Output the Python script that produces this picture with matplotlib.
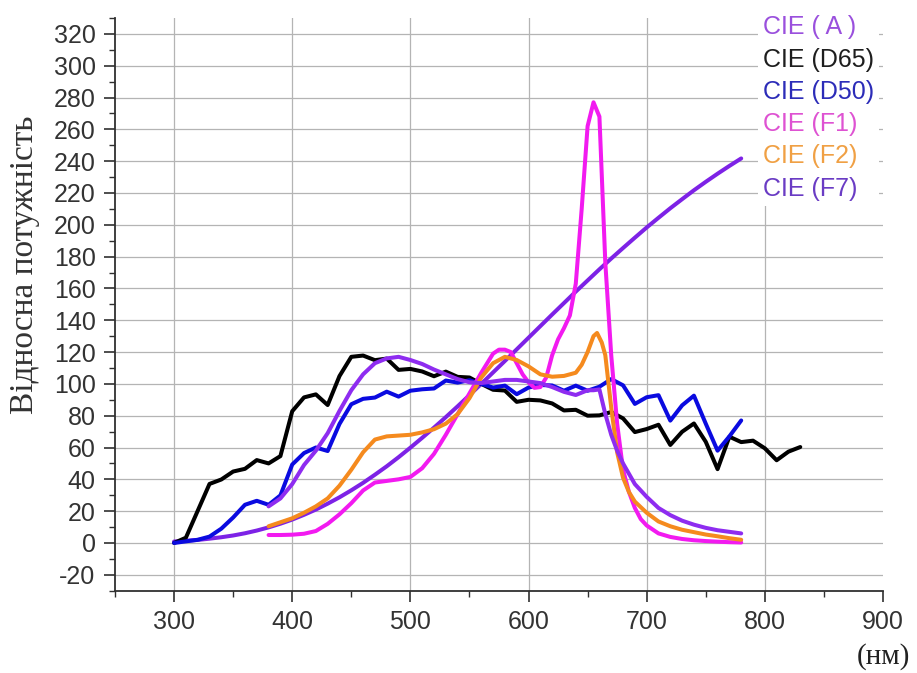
import matplotlib
matplotlib.use("Agg")
import matplotlib.pyplot as plt
from matplotlib.ticker import MultipleLocator

plt.rcParams['font.family'] = ['Liberation Sans', 'DejaVu Sans']
plt.rcParams['axes.unicode_minus'] = False

# --- data ---
wl_a = [300, 310, 320, 330, 340, 350, 360, 370, 380, 390, 400, 410, 420, 430, 440,
        450, 460, 470, 480, 490, 500, 510, 520, 530, 540, 550, 560, 570, 580, 590,
        600, 610, 620, 630, 640, 650, 660, 670, 680, 690, 700, 710, 720, 730, 740,
        750, 760, 770, 780]
cie_a = [0.9, 1.4, 1.9, 2.7, 3.6, 4.7, 6.1, 7.8, 9.8, 12.1, 14.7, 17.7, 21.0, 24.7, 28.7,
         33.1, 37.8, 42.9, 48.2, 53.9, 59.9, 66.1, 72.5, 79.1, 85.9, 92.9, 100.0, 107.2, 114.4, 121.7,
         129.0, 136.3, 143.6, 150.8, 158.0, 165.0, 172.0, 178.8, 185.4, 191.9, 198.3, 204.4, 210.4, 216.1, 221.7,
         227.0, 232.1, 237.0, 241.7]

wl_d65 = [300, 310, 320, 330, 340, 350, 360, 370, 380, 390, 400, 410, 420, 430, 440,
          450, 460, 470, 480, 490, 500, 510, 520, 530, 540, 550, 560, 570, 580, 590,
          600, 610, 620, 630, 640, 650, 660, 670, 680, 690, 700, 710, 720, 730, 740,
          750, 760, 770, 780, 790, 800, 810, 820, 830]
cie_d65 = [0.0, 3.3, 20.2, 37.1, 39.9, 44.9, 46.6, 52.1, 50.0, 54.6, 82.8, 91.5, 93.4, 86.7, 104.9,
           117.0, 117.8, 114.9, 115.9, 108.8, 109.4, 107.8, 104.8, 107.7, 104.4, 104.0, 100.0, 96.3, 95.8, 88.7,
           90.0, 89.6, 87.7, 83.3, 83.7, 80.0, 80.2, 82.3, 78.3, 69.7, 71.6, 74.3, 61.6, 69.9, 75.1,
           63.6, 46.4, 66.8, 63.4, 64.3, 59.5, 52.0, 57.4, 60.3]

wl_d50 = wl_a
cie_d50 = [0.0, 1.0, 2.0, 4.0, 9.0, 16.0, 24.0, 26.5, 24.0, 29.9, 49.3, 56.5, 60.0, 57.8, 74.8,
           87.2, 90.6, 91.4, 95.1, 92.0, 95.7, 96.6, 97.1, 102.1, 100.8, 102.3, 100.0, 97.7, 98.9, 93.5,
           97.7, 99.3, 99.0, 95.7, 98.9, 95.7, 98.2, 103.0, 99.1, 87.4, 91.6, 92.9, 76.9, 86.5, 92.6,
           75.0, 58.0, 67.0, 77.0]

wl_f1 = [380, 390, 400, 410, 420, 430, 440, 450, 460, 470, 480, 490, 500, 510, 520,
         530, 540, 550, 560, 570, 575, 580, 585, 590, 595, 600, 605, 610, 615, 620,
         625, 630, 635, 640, 645, 650, 655, 660, 665, 670, 675, 680, 685, 690, 695,
         700, 710, 720, 730, 740, 750, 760, 770, 780]
cie_f1 = [5.0, 5.0, 5.2, 5.8, 7.5, 12.0, 18.0, 25.0, 33.0, 38.0, 39.0, 40.0, 41.5, 47.0, 56.0,
          68.0, 81.0, 94.0, 107.0, 119.0, 121.5, 121.5, 120.0, 113.0, 106.0, 101.0, 97.5, 98.0, 104.0, 118.0,
          128.0, 135.0, 143.0, 163.0, 210.0, 262.0, 277.0, 268.0, 176.0, 118.0, 75.0, 46.0, 32.0, 22.0, 15.0,
          11.0, 6.0, 3.8, 2.5, 1.7, 1.2, 0.8, 0.5, 0.3]

wl_f2 = [380, 390, 400, 410, 420, 430, 440, 450, 460, 470, 480, 490, 500, 510, 520,
         530, 540, 550, 560, 570, 580, 590, 600, 610, 620, 630, 640, 645, 650, 655,
         658, 662, 665, 670, 675, 680, 685, 690, 700, 710, 720, 730, 740, 750, 760,
         770, 780]
cie_f2 = [10.5, 13.0, 15.5, 19.0, 23.0, 28.0, 36.0, 46.0, 57.0, 65.0, 67.0, 67.5, 68.0, 69.5, 71.5,
          75.0, 81.0, 91.0, 104.0, 113.0, 117.0, 115.0, 111.0, 106.0, 104.5, 105.0, 107.0, 112.0, 120.0, 130.0,
          132.0, 126.0, 118.0, 85.0, 57.0, 41.0, 32.0, 26.0, 19.0, 13.5, 10.5, 8.3, 6.8, 5.3, 4.2,
          3.0, 2.0]

wl_f7 = [380, 390, 400, 410, 420, 430, 440, 450, 460, 470, 480, 490, 500, 510, 520,
         530, 540, 550, 560, 570, 580, 590, 600, 610, 620, 630, 640, 650, 655, 660,
         665, 670, 675, 680, 690, 700, 710, 720, 730, 740, 750, 760, 770, 780]
cie_f7 = [23.0, 28.0, 37.0, 49.0, 58.0, 69.0, 83.0, 96.0, 106.0, 113.0, 116.0, 117.0, 115.0, 112.5, 109.0,
          106.0, 103.0, 101.0, 100.5, 101.5, 102.5, 102.5, 101.5, 100.5, 98.0, 95.0, 93.0, 96.0, 96.0, 96.5,
          81.0, 68.0, 58.0, 50.0, 37.0, 29.0, 22.0, 17.5, 14.0, 11.5, 9.5, 8.0, 7.0, 6.0]

labels = ['CIE ( A )', 'CIE (D65)', 'CIE (D50)', 'CIE (F1)', 'CIE (F2)', 'CIE (F7)']
line_colors = ['#7d22e6', '#000000', '#0a0ae0', '#f21af0', '#f58a1e', '#8e2cf0']
text_colors = ['#9a50dd', '#1e1e1e', '#2c2cb8', '#de52d2', '#f0a044', '#6a3cc4']

fig = plt.figure(figsize=(9.17, 6.73), dpi=100)
ax = fig.add_axes([0.1254, 0.1223, 0.8375, 0.851])

series = [(wl_a, cie_a), (wl_d65, cie_d65), (wl_d50, cie_d50),
          (wl_f1, cie_f1), (wl_f2, cie_f2), (wl_f7, cie_f7)]
lines = []
for (x, y), c, lab in zip(series, line_colors, labels):
    ln, = ax.plot(x, y, color=c, lw=2.9, label=lab, solid_capstyle='round',
                  solid_joinstyle='round', zorder=3)
    lines.append(ln)

ax.set_xlim(250, 900)
ax.set_ylim(-30, 330)
ax.xaxis.set_major_locator(MultipleLocator(100))
ax.xaxis.set_minor_locator(MultipleLocator(50))
ax.yaxis.set_major_locator(MultipleLocator(20))
ax.yaxis.set_minor_locator(MultipleLocator(10))
ax.set_xticks(range(300, 901, 100))

ax.grid(True, which='major', color='#b4b4b4', lw=0.9)
ax.set_axisbelow(True)
# no vertical grid line on the right edge (900)
ax.get_xgridlines()[-1].set_visible(False)

for s in ['top', 'right']:
    ax.spines[s].set_visible(False)
for s in ['left', 'bottom']:
    ax.spines[s].set_color('#303030')
    ax.spines[s].set_linewidth(1.3)

ax.tick_params(which='major', direction='out', length=8, width=1.2, colors='#303030',
               labelsize=18, labelcolor='#333333', pad=6)
ax.tick_params(which='minor', direction='out', length=4, width=1.0, colors='#303030')

ax.set_ylabel('Відносна потужність', fontfamily='Liberation Serif', fontsize=24, color='#333333')
ax.yaxis.set_label_coords(-0.098, 0.569)
ax.set_xlabel('(нм)', fontfamily='Liberation Serif', fontsize=21, color='#222222')
ax.xaxis.set_label_coords(1.0, -0.092)

leg = ax.legend(lines, labels, loc='upper left', bbox_to_anchor=(0.821, 1.035),
                handlelength=0, handletextpad=0, labelspacing=0.33, borderpad=0.2,
                fontsize=18, frameon=True, facecolor='white', edgecolor='none',
                framealpha=1, fancybox=False, labelcolor=text_colors)
for h in leg.legend_handles:
    h.set_visible(False)

fig.savefig('out.png', dpi=100)
